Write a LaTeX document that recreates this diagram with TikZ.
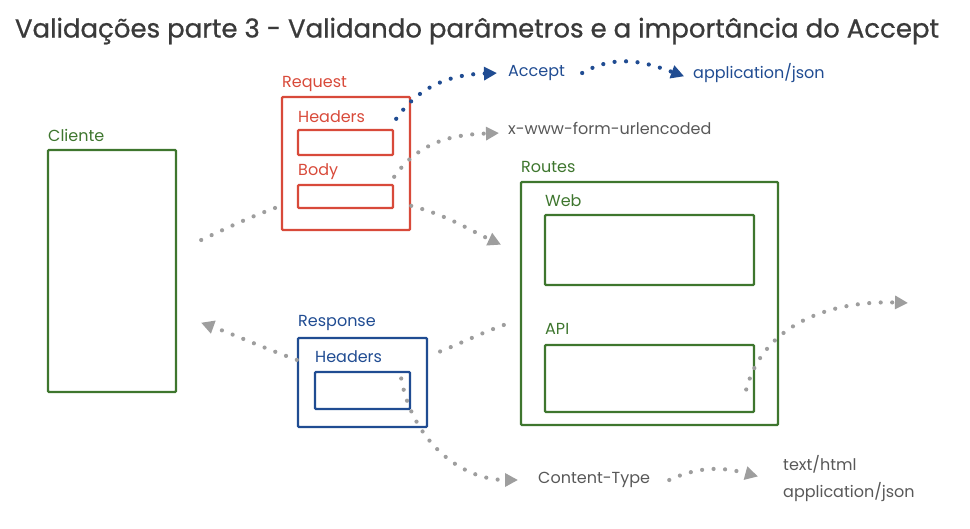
\documentclass[tikz,border=0pt]{standalone}
\usepackage{fontspec}
\setmainfont{Poppins}
\newfontfamily\ttlfont[FakeBold=0.8]{Poppins}
\usetikzlibrary{arrows.meta}

\definecolor{reqred}{RGB}{216,74,58}
\definecolor{okgreen}{RGB}{62,118,46}
\definecolor{resblue}{RGB}{32,76,146}
\definecolor{dotgray}{RGB}{158,158,158}
\definecolor{txtgray}{RGB}{88,88,88}
\definecolor{ttlgray}{RGB}{58,58,58}

\begin{document}
\begin{tikzpicture}[x=1pt,y=1pt,>={Triangle[length=13pt,width=13pt]},
                    line width=2.4pt]
  \tikzstyle{box}=[draw,inner sep=0pt,rounded corners=1pt]
  \tikzstyle{lbl}=[anchor=west,inner sep=0pt,font=\fontsize{16}{19}\selectfont]
  \tikzstyle{dots}=[draw=dotgray,line width=4.2pt,line cap=round,
                    dash pattern=on 0pt off 11.5pt,->,shorten >=2pt]
  \tikzstyle{bdots}=[dots,draw=resblue]

  \useasboundingbox (0,0) rectangle (970,528);

  % title
  \node[font=\ttlfont\fontsize{26}{31}\selectfont,text=ttlgray] (title) at (477,497)
    {Validações parte 3 - Validando parâmetros e a importância do Accept};

  % cliente
  \node[box,draw=okgreen,minimum width=128pt,minimum height=242pt] (cli) at (112,257) {};
  \node[lbl,text=okgreen] (clilbl) at (47,393) {Cliente};

  % request
  \node[box,draw=reqred,minimum width=128pt,minimum height=133pt] (req) at (346,364.5) {};
  \node[lbl,text=reqred] (reqlbl) at (281,444) {Request};
  \node[lbl,text=reqred] (reqhlbl) at (297,411) {Headers};
  \node[box,draw=reqred,minimum width=95pt,minimum height=25pt] (reqh) at (345.5,385.5) {};
  \node[lbl,text=reqred] (bodylbl) at (297,356) {Body};
  \node[box,draw=reqred,minimum width=95pt,minimum height=23pt] (body) at (345.5,331.5) {};

  % response
  \node[box,draw=resblue,minimum width=129pt,minimum height=89pt] (res) at (362.5,145.5) {};
  \node[lbl,text=resblue] (reslbl) at (297,205) {Response};
  \node[lbl,text=resblue] (reshlbl) at (314,171) {Headers};
  \node[box,draw=resblue,minimum width=95pt,minimum height=37pt] (resh) at (362.5,137.5) {};

  % routes
  \node[box,draw=okgreen,minimum width=257pt,minimum height=243pt] (routes) at (649.5,224.5) {};
  \node[lbl,text=okgreen] (routeslbl) at (520,361) {Routes};
  \node[lbl,text=okgreen] (weblbl) at (544,327) {Web};
  \node[box,draw=okgreen,minimum width=209pt,minimum height=70pt] (web) at (649.5,278) {};
  \node[lbl,text=okgreen] (apilbl) at (544,199) {API};
  \node[box,draw=okgreen,minimum width=209pt,minimum height=67pt] (api) at (649.5,149.5) {};

  % texts
  \node[lbl,text=resblue] (accept) at (507,455) {Accept};
  \node[lbl,text=resblue] (json) at (692,455) {application/json};
  \node[lbl,text=txtgray] (form) at (507,400) {x-www-form-urlencoded};
  \node[lbl,text=txtgray] (ctype) at (537,48) {Content-Type};
  \node[lbl,text=txtgray,align=left,font=\fontsize{16}{27}\selectfont] (types) at (782,49)
    {text/html\\application/json};
  \coordinate (out) at (910,225);

  % dotted arrows
  \path[dots,-] ([shift={(24,31)}]cli.east) to[out=25,in=200] (req.213);
  \path[dots] (req.327) to[out=-15,in=155] ([shift={(-17,58)}]routes.west);
  \path[bdots] ([shift={(2,10)}]reqh.north east) to[out=55,in=182] ([xshift=-8pt]accept.west);
  \path[dots] ([shift={(0,7)}]body.north east) to[out=55,in=182] ([shift={(-6,-5)}]form.west);
  \path[bdots] ([xshift=16pt]accept.east) to[out=30,in=160] ([shift={(-6,-4)}]json.west);
  \path[dots,-] ([shift={(-16,-21.5)}]routes.west) to[out=200,in=20] (res.22);
  \path[dots] (res.161) to[out=160,in=-20] ([shift={(22,-51)}]cli.east);
  \path[dots] ([shift={(-10,12)}]resh.east) to[out=-80,in=180] ([xshift=-17pt]ctype.west);
  \path[dots] ([xshift=18pt]ctype.east) to[out=25,in=165] ([shift={(-22,2)}]types.west);
  \path[dots] ([shift={(-9,-11)}]api.east) to[out=75,in=178] (out);
\end{tikzpicture}
\end{document}
